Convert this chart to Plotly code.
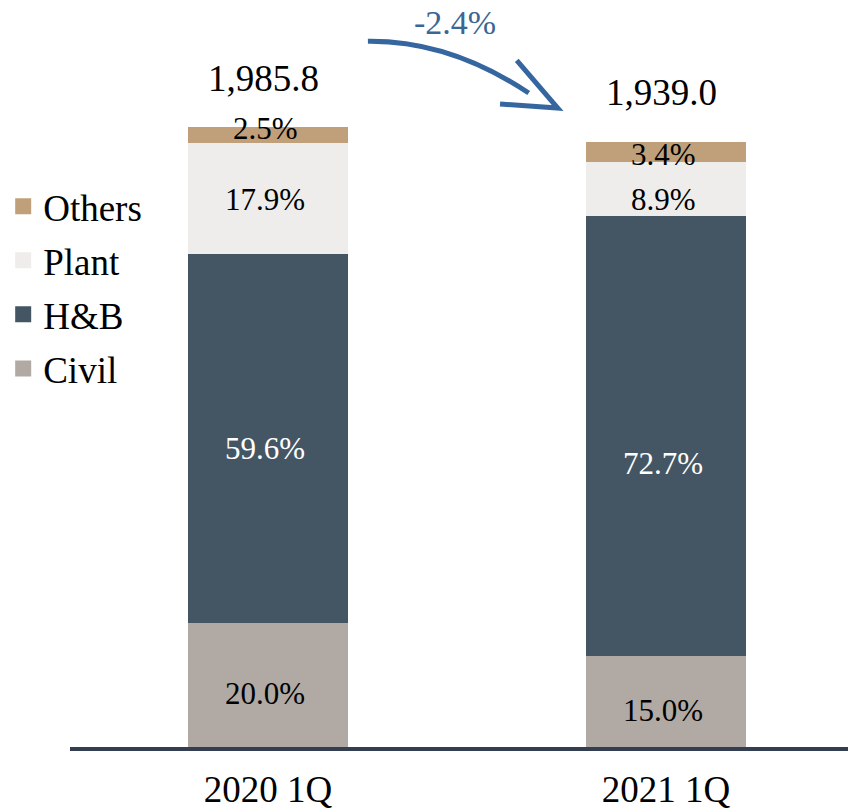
import plotly.graph_objects as go

# values
periods = ["2020 1Q", "2021 1Q"]
totals = [1985.8, 1939.0]
segments = ["Civil", "H&B", "Plant", "Others"]
shares = {
    "Civil": [20.0, 15.0],
    "H&B": [59.6, 72.7],
    "Plant": [17.9, 8.9],
    "Others": [2.5, 3.4],
}
change_label = "-2.4%"

colors = {"Civil": "#b1a9a3", "H&B": "#445664", "Plant": "#eeedeb", "Others": "#c0a07a"}
text_colors = {"Civil": "black", "H&B": "white", "Plant": "black", "Others": "black"}
# labels in the original are not exactly centred in their segments (px, down > 0)
label_nudge = {"Civil": [8, 9], "H&B": [10, 27], "Plant": [1, 10], "Others": [-6, 2]}
FONT = "Liberation Serif"

xs = list(range(len(periods)))

fig = go.Figure()
base = [0.0] * len(xs)
for seg in segments:
    vals = [t * s / 100 for t, s in zip(totals, shares[seg])]
    fig.add_trace(
        go.Bar(
            x=xs,
            y=vals,
            name=seg,
            showlegend=False,
            width=0.4,
            marker=dict(color=colors[seg], line=dict(width=0)),
            hovertemplate=seg + ": %{y:.1f}<extra></extra>",
        )
    )
    for i, (v, s) in enumerate(zip(vals, shares[seg])):
        fig.add_annotation(
            x=xs[i], y=base[i] + v / 2, text=f"{s:.1f}%", showarrow=False,
            yanchor="middle", yshift=-label_nudge[seg][i], xshift=-3,
            font=dict(size=31, color=text_colors[seg], family=FONT),
        )
        base[i] += v

# legend entries (top to bottom = top of stack first) with bigger square swatches
for seg in reversed(segments):
    fig.add_trace(
        go.Scatter(
            x=[None], y=[None], mode="markers", name=seg, legendgroup=seg,
            marker=dict(symbol="square", size=17, color=colors[seg]),
        )
    )

# totals above bars
for x, t in zip(xs, totals):
    fig.add_annotation(
        x=x, y=t, text=f"{t:,.1f}", showarrow=False,
        yanchor="middle", yshift=49, xshift=-5,
        font=dict(size=37, color="black", family=FONT),
    )

# curved change arrow between the two totals
arrow_color = "#3566a0"
fig.add_shape(
    type="path",
    path="M 0.251,2261 Q 0.457,2264 0.655,2095",
    line=dict(color=arrow_color, width=5),
    xref="x", yref="y", layer="above",
)
fig.add_shape(
    type="path",
    path="M 0.625,2200 L 0.728,2047 L 0.583,2060",
    line=dict(color=arrow_color, width=5),
    xref="x", yref="y", layer="above",
)
fig.add_annotation(
    x=0.469, y=2320, text=change_label, showarrow=False,
    yanchor="middle",
    font=dict(size=34, color="#3a6695", family=FONT),
)

# page body has an 8px margin, so the figure is 8px smaller than the window
fig.update_layout(
    width=848,
    height=801,
    barmode="stack",
    plot_bgcolor="white",
    paper_bgcolor="white",
    margin=dict(l=62, r=0, t=12, b=62, autoexpand=False),
    font=dict(family=FONT, size=37, color="black"),
    showlegend=True,
    legend=dict(
        traceorder="grouped",
        x=-0.085, xanchor="left",
        y=0.786, yanchor="top",
        font=dict(size=37, family=FONT),
        tracegroupgap=3,
        itemwidth=30,
        bgcolor="rgba(0,0,0,0)",
    ),
)
fig.update_xaxes(
    range=[-0.4975, 1.4774],
    tickvals=xs,
    ticktext=periods,
    showline=True,
    linewidth=4,
    linecolor="#333f50",
    showgrid=False,
    zeroline=False,
    ticks="",
    ticklabelstandoff=7,
    tickfont=dict(size=37, family=FONT),
)
fig.update_yaxes(
    range=[0, 2329],
    visible=False,
    showgrid=False,
    zeroline=False,
)

fig.write_html("out.html")
